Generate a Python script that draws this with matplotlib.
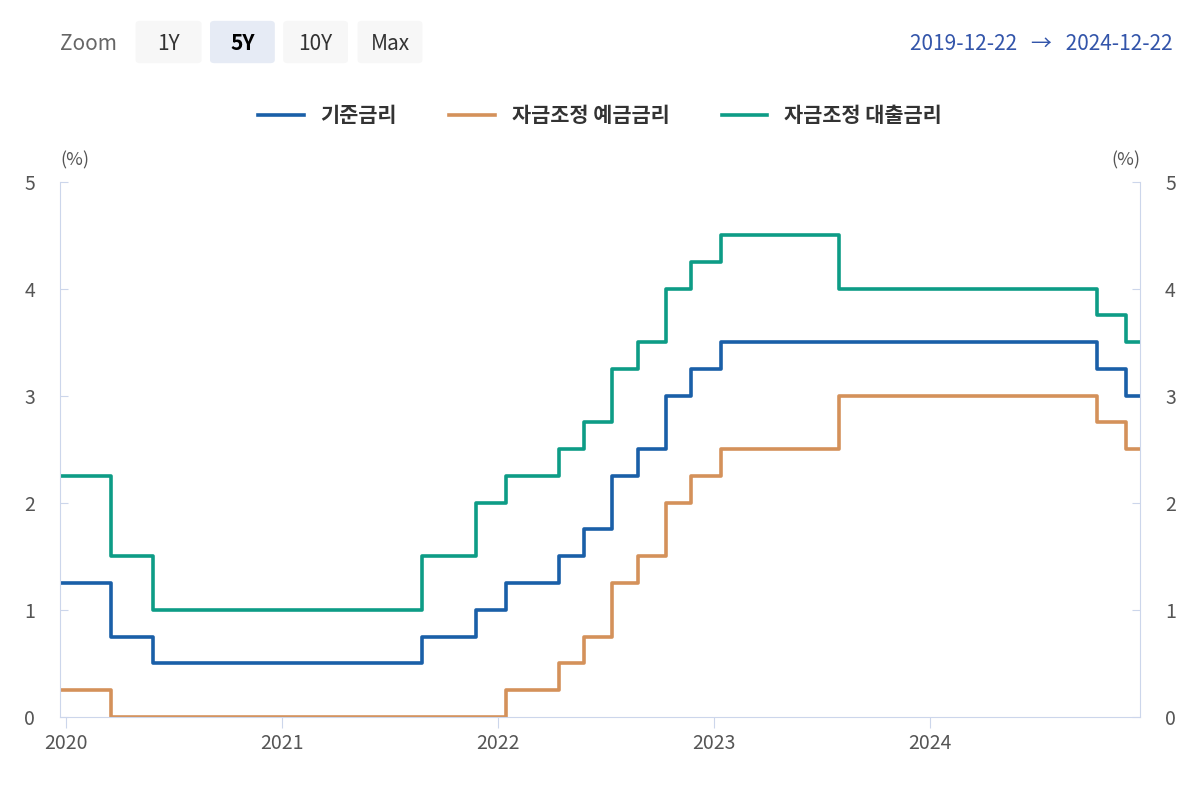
import matplotlib
matplotlib.use("Agg")
import matplotlib.pyplot as plt
import matplotlib.dates as mdates
from matplotlib import font_manager
import pandas as pd
from matplotlib.patches import FancyBboxPatch

cjk = [f.name for f in font_manager.fontManager.ttflist if "CJK" in f.name]
kr = [n for n in cjk if "KR" in n] or cjk
plt.rcParams["font.family"] = (kr[:1] if kr else []) + ["DejaVu Sans"]

change_dates = ["2019-12-22", "2020-03-17", "2020-05-28", "2021-08-26", "2021-11-25",
                "2022-01-14", "2022-04-14", "2022-05-26", "2022-07-13", "2022-08-25",
                "2022-10-12", "2022-11-24", "2023-01-13", "2023-08-01", "2024-10-11",
                "2024-11-28", "2024-12-22"]
base_rate = [1.25, 0.75, 0.50, 0.75, 1.00, 1.25, 1.50, 1.75, 2.25, 2.50, 3.00, 3.25, 3.50, 3.50, 3.25, 3.00, 3.00]
deposit_rate = [0.25, 0.00, 0.00, 0.00, 0.00, 0.25, 0.50, 0.75, 1.25, 1.50, 2.00, 2.25, 2.50, 3.00, 2.75, 2.50, 2.50]
lending_rate = [2.25, 1.50, 1.00, 1.50, 2.00, 2.25, 2.50, 2.75, 3.25, 3.50, 4.00, 4.25, 4.50, 4.00, 3.75, 3.50, 3.50]
series_names = ["기준금리", "자금조정 예금금리", "자금조정 대출금리"]
colors = ["#1a5fa8", "#d4915a", "#0d9c86"]

dates = pd.to_datetime(change_dates)
fig = plt.figure(figsize=(12, 8), dpi=100)
ax = fig.add_axes([0.05, 0.104, 0.9, 0.669])
for vals, name, c in zip([base_rate, deposit_rate, lending_rate], series_names, colors):
    ax.step(dates, vals, where="post", color=c, lw=2.6, label=name)

ax.set_xlim(dates[0], dates[-1])
ax.set_ylim(0, 5)
ax.set_yticks([0, 1, 2, 3, 4, 5])
ax.tick_params(axis="y", length=6, color="#ccd6eb", labelsize=14, labelcolor="#555555", pad=18)
ax.tick_params(axis="x", length=8, color="#ccd6eb", labelsize=14, labelcolor="#555555")
ax.tick_params(axis="y", which="both", left=True, right=True, labelleft=True, labelright=True, direction="in")
ax.xaxis.set_major_locator(mdates.YearLocator())
ax.xaxis.set_major_formatter(mdates.DateFormatter("%Y"))
for s in ["left", "right", "bottom"]:
    ax.spines[s].set_color("#ccd6eb")
ax.spines["top"].set_visible(False)
ax.text(0.0, 1.03, "(%)", transform=ax.transAxes, fontsize=13, color="#555555", ha="left")
ax.text(1.0, 1.03, "(%)", transform=ax.transAxes, fontsize=13, color="#555555", ha="right")

leg = fig.legend(loc="center", bbox_to_anchor=(0.5, 0.855), ncol=3, frameon=False,
                 prop={"size": 15, "weight": "bold"}, handlelength=2.2, columnspacing=2.5)
for t in leg.get_texts():
    t.set_color("#333333")

fig.text(0.05, 0.945, "Zoom", fontsize=15, color="#666666", va="center")
buttons = [("1Y", 0.113, 0.168), ("5Y", 0.175, 0.229), ("10Y", 0.236, 0.29), ("Max", 0.298, 0.352)]
for label, x0, x1 in buttons:
    sel = label == "5Y"
    fig.patches.append(FancyBboxPatch((x0, 0.921), x1 - x0, 0.053, boxstyle="round,pad=0,rounding_size=0.004",
                                      transform=fig.transFigure, fc="#e6ebf5" if sel else "#f7f7f7", ec="none"))
    fig.text((x0 + x1) / 2, 0.945, label, fontsize=15, color="#000000" if sel else "#333333",
             weight="bold" if sel else "normal", ha="center", va="center")
fig.text(0.977, 0.945, "2019-12-22   →   2024-12-22", fontsize=15, color="#3355aa", ha="right", va="center")

fig.savefig("out.png")
